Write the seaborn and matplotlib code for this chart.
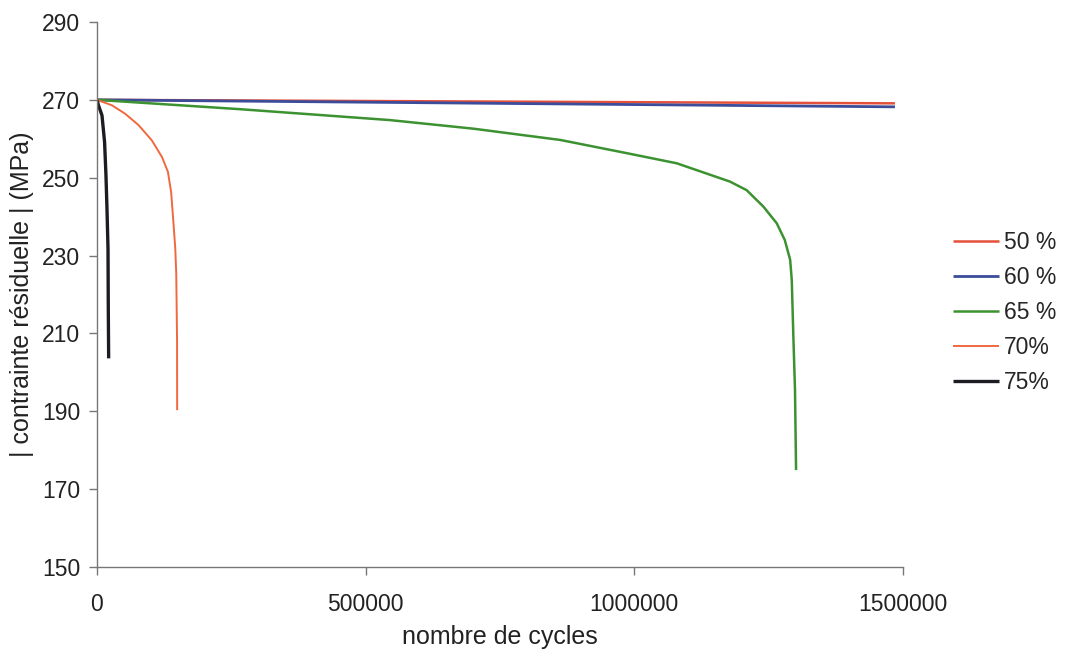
import numpy as np
import pandas as pd
import matplotlib
matplotlib.use("Agg")
import matplotlib.pyplot as plt
from matplotlib.ticker import FuncFormatter
import seaborn as sns

# values
x50 = [0, 1485000]
y50 = [270.0, 269.1]

x60 = [0, 1485000]
y60 = [270.0, 268.2]

x65 = [0, 266000, 545000, 700000, 862000, 986000, 1079000, 1178000, 1209000,
       1240000, 1265000, 1280000, 1290000, 1293000, 1296000, 1299000, 1301000]
y65 = [270.0, 267.6, 264.8, 262.6, 259.7, 256.3, 253.7, 249.0, 246.8,
       242.6, 238.3, 234.0, 228.9, 223.7, 209.0, 195.5, 174.9]

x70 = [0, 27900, 52700, 77400, 102000, 121000, 132000, 138000, 142600,
       145700, 147500, 149000, 149200]
y70 = [270.0, 268.6, 266.4, 263.5, 259.6, 255.3, 251.5, 246.3, 237.8,
       231.8, 225.4, 208.3, 190.3]

x75 = [0, 3000, 9300, 14100, 16700, 18600, 20500, 21000, 21700]
y75 = [270.0, 268.5, 266.0, 259.2, 250.6, 242.0, 231.8, 216.9, 203.6]

labels = ["50 %", "60 %", "65 %", "70%", "75%"]
colors = ["#e4503a", "#3b4c9b", "#3c9230", "#f0683e", "#1c1c22"]
widths = [1.8, 2.0, 1.8, 1.4, 2.4]

series = [(x50, y50), (x60, y60), (x65, y65), (x70, y70), (x75, y75)]
df = pd.concat(
    [pd.DataFrame({"cycles": xs, "contrainte": ys, "serie": lab})
     for (xs, ys), lab in zip(series, labels)],
    ignore_index=True,
)

sns.set_style("white")
plt.rcParams["font.family"] = ["Liberation Sans", "DejaVu Sans"]

fig = plt.figure(figsize=(10.67, 6.54), dpi=100)
ax = fig.add_axes([0.0909, 0.133, 0.7554, 0.8334])

sns.lineplot(data=df, x="cycles", y="contrainte", hue="serie",
             hue_order=labels, palette=colors, estimator=None, sort=False,
             ax=ax, legend=False)
for line, lw in zip(ax.get_lines(), widths):
    line.set_linewidth(lw)
    line.set_solid_capstyle("butt")
    line.set_solid_joinstyle("round")

ax.set_xlim(0, 1500000)
ax.set_ylim(150, 290)
ax.set_xticks([0, 500000, 1000000, 1500000])
ax.set_yticks(np.arange(150, 291, 20))
ax.xaxis.set_major_formatter(FuncFormatter(lambda v, p: f"{int(v)}"))

for side in ["top", "right"]:
    ax.spines[side].set_visible(False)
for side in ["left", "bottom"]:
    ax.spines[side].set_color("#777777")
    ax.spines[side].set_linewidth(1.0)

ax.tick_params(axis="both", which="major", direction="out", length=6,
               width=1, color="#777777", labelsize=16.5, labelcolor="#222222",
               bottom=True, left=True)
ax.tick_params(axis="x", pad=13)
ax.tick_params(axis="y", pad=6)

ax.set_xlabel("nombre de cycles", fontsize=18, color="#222222", labelpad=6)
ax.set_ylabel("| contrainte résiduelle | (MPa)", fontsize=18, color="#222222",
              labelpad=6)

handles = ax.get_lines()
fig.legend(handles, labels, loc="upper left", bbox_to_anchor=(0.8846, 0.661),
           frameon=False, fontsize=16.5, handlelength=2.0, handletextpad=0.22,
           labelspacing=0.53, borderaxespad=0)

fig.savefig("out.png", dpi=100)
